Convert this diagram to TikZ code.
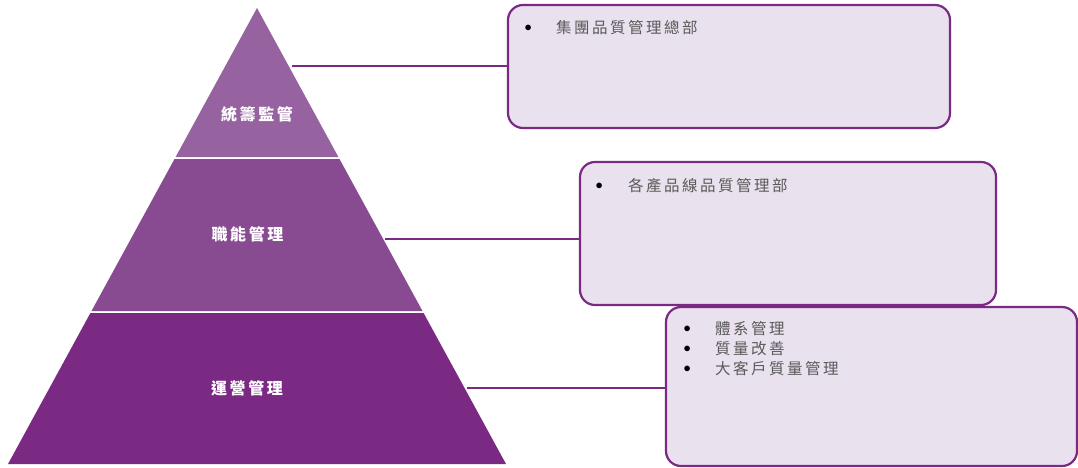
\documentclass[tikz,border=0pt]{standalone}
\usepackage{fontspec}
\newfontfamily\cjklabel[LetterSpace=16]{Noto Sans CJK TC}
\newfontfamily\cjkitem[LetterSpace=16]{Noto Sans CJK TC}
\usetikzlibrary{positioning}

\definecolor{layerA}{HTML}{9663A0}
\definecolor{layerB}{HTML}{884A91}
\definecolor{layerC}{HTML}{7A2A83}
\definecolor{boxfill}{HTML}{E9E1EE}
\definecolor{itemgray}{HTML}{5A5A5A}

\tikzset{
  layerlabel/.style={text=white, inner sep=0pt, font=\cjklabel\bfseries\fontsize{16}{18}\selectfont},
  infobox/.style={draw=layerC, line width=2.2pt, fill=boxfill, rounded corners=15pt,
    anchor=north west, inner sep=0pt, outer sep=0pt},
  link/.style={draw=layerC, line width=2.8pt},
  itemlist/.style={anchor=base west, inner sep=0pt, text=itemgray, align=left,
    font=\cjkitem\fontsize{15.5}{20}\selectfont}
}
\newcommand{\itembullet}[1]{\makebox[0pt]{\raisebox{2pt}{\textcolor{black}{$\bullet$}}}\hspace{#1}}

\begin{document}
\begin{tikzpicture}[x=1pt,y=-1pt]
  \useasboundingbox (0,0) rectangle (1078,467);

  % pyramid layers
  \fill[layerA] (257,8) -- (338.4,157) -- (175.6,157) -- cycle;
  \fill[layerB] (174.5,159) -- (339.5,159) -- (422.5,311) -- (91.5,311) -- cycle;
  \fill[layerC] (90.4,313) -- (423.6,313) -- (506,464) -- (8,464) -- cycle;

  \node[layerlabel] (toplabel) at (257,114) {統籌監管};
  \node[layerlabel] (midlabel) at (247.5,234) {職能管理};
  \node[layerlabel] (baselabel) at (247,388) {運營管理};

  % boxes
  \node[infobox, minimum width=442pt, minimum height=123pt] (box1) at (508,5) {};
  \node[infobox, minimum width=416pt, minimum height=143pt] (box2) at (580,162) {};
  \node[infobox, minimum width=411pt, minimum height=159pt] (box3) at (666,307) {};

  \node[itemlist] (list1) at (528,33) {\itembullet{28pt}集團品質管理總部};
  \node[itemlist] (list2) at (599,191) {\itembullet{29pt}各產品線品質管理部};
  \node[itemlist] (list3) at (687,374)
    {\itembullet{28pt}體系管理\\ \itembullet{28pt}質量改善\\ \itembullet{28pt}大客戶質量管理};

  % connectors
  \coordinate (edge1) at (292,66);
  \coordinate (edge2) at (385,239);
  \coordinate (edge3) at (467,388);
  \draw[link] (edge1) -- (edge1 -| box1.west);
  \draw[link] (edge2) -- (edge2 -| box2.west);
  \draw[link] (edge3) -- (edge3 -| box3.west);
\end{tikzpicture}
\end{document}
